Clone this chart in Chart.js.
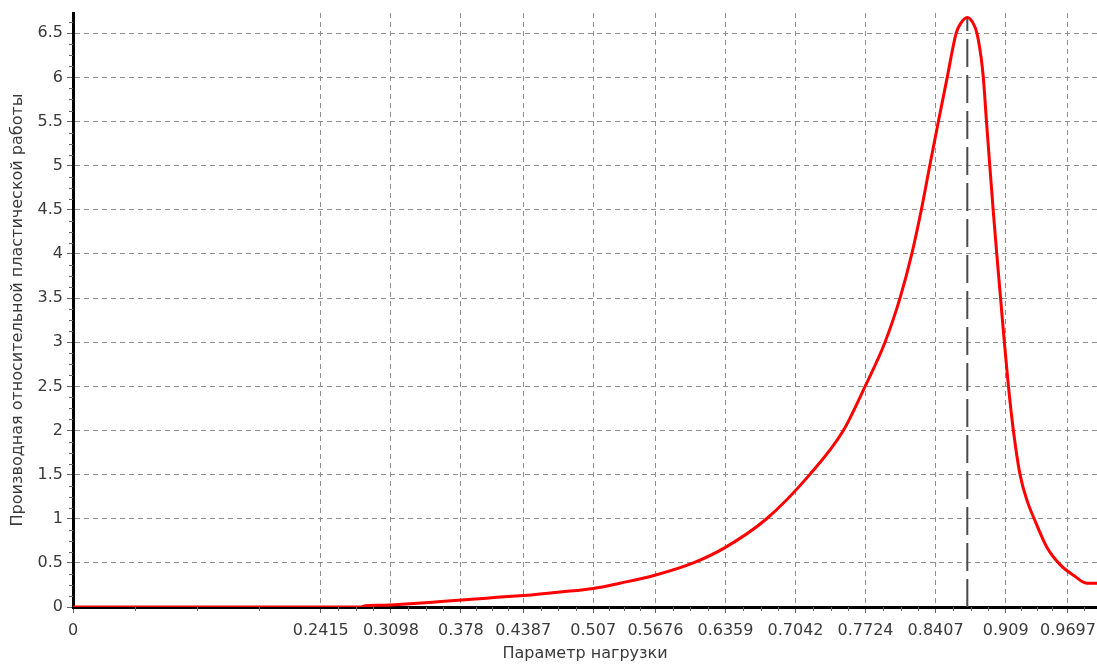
<!DOCTYPE html>
<html>
<head>
<meta charset="utf-8">
<script src="https://cdn.jsdelivr.net/npm/chart.js@4/dist/chart.umd.min.js"></script>
<style>
  html, body { margin: 0; padding: 0; background: #fff; }
</style>
</head>
<body>
<canvas id="plot" width="1097" height="666"></canvas>
<script>
// load parameter vs. derivative of relative plastic work
const loadParam = [
    0, 0.28, 0.285, 0.30, 0.325, 0.356, 0.379, 0.403, 0.424, 0.449,
    0.475, 0.507, 0.533, 0.567, 0.6046, 0.635, 0.676, 0.718, 0.7508, 0.772,
    0.7914, 0.806, 0.8175, 0.8268, 0.835, 0.8434, 0.852, 0.8607, 0.865, 0.8716,
    0.8775, 0.881, 0.885, 0.8872, 0.8903, 0.8935, 0.8968, 0.9003, 0.904, 0.9077,
    0.9117, 0.9165, 0.923, 0.930, 0.9368, 0.949, 0.962, 0.975, 0.988, 0.998
];
const plasticWork = [
    0, 0, 0.015, 0.02, 0.035, 0.06, 0.08, 0.10, 0.12, 0.14,
    0.17, 0.21, 0.27, 0.36, 0.50, 0.67, 1.00, 1.50, 2.00, 2.50,
    3.00, 3.50, 4.00, 4.50, 5.00, 5.50, 6.00, 6.50, 6.61, 6.68,
    6.61, 6.50, 6.23, 6.00, 5.50, 5.00, 4.50, 4.00, 3.50, 3.00,
    2.50, 2.00, 1.50, 1.20, 1.00, 0.68, 0.48, 0.36, 0.27, 0.27
];
const xTicks = [0, 0.2415, 0.3098, 0.378, 0.4387, 0.507, 0.5676, 0.6359, 0.7042, 0.7724, 0.8407, 0.909, 0.9697];
const yTicks = [0, 0.5, 1, 1.5, 2, 2.5, 3, 3.5, 4, 4.5, 5, 5.5, 6, 6.5];

const xMax = 0.998;
const yMax = 6.73;

let curve = [];
for (let i = 0; i < loadParam.length; i++) {
    curve.push({ x: loadParam[i], y: plasticWork[i] });
}

// vertical marker at the maximum
let peakIdx = 0;
for (let i = 1; i < plasticWork.length; i++) {
    if (plasticWork[i] > plasticWork[peakIdx]) peakIdx = i;
}
let peakLine = [
    { x: loadParam[peakIdx], y: 0 },
    { x: loadParam[peakIdx], y: plasticWork[peakIdx] }
];

const textColor = '#3a3a3a';
const fontFamily = "'DejaVu Sans', Verdana, sans-serif";

// small ticks between the labelled ones
const minorTicks = {
    id: 'minorTicks',
    afterDraw(chart) {
        const ctx = chart.ctx;
        const xs = chart.scales.x;
        const ys = chart.scales.y;
        ctx.save();
        ctx.strokeStyle = '#666';
        ctx.lineWidth = 1;
        ctx.beginPath();
        let bounds = xTicks.slice();
        let last = xTicks[xTicks.length - 1] - xTicks[xTicks.length - 2];
        bounds.push(xTicks[xTicks.length - 1] + last);
        for (let i = 0; i < bounds.length - 1; i++) {
            let step = (bounds[i + 1] - bounds[i]) / 4;
            for (let k = 1; k < 4; k++) {
                let v = bounds[i] + step * k;
                if (v > xMax) break;
                let px = Math.round(xs.getPixelForValue(v)) + 0.5;
                ctx.moveTo(px, ys.bottom);
                ctx.lineTo(px, ys.bottom + 4);
            }
        }
        for (let v = 0.125; v < yMax; v += 0.125) {
            if (Math.abs(v * 2 - Math.round(v * 2)) < 1e-6) continue;
            let py = Math.round(ys.getPixelForValue(v)) + 0.5;
            ctx.moveTo(xs.left, py);
            ctx.lineTo(xs.left - 4, py);
        }
        ctx.stroke();
        ctx.restore();
    }
};

new Chart(document.getElementById('plot'), {
    type: 'line',
    data: {
        datasets: [
            {
                data: curve,
                borderColor: '#ff0000',
                borderWidth: 3,
                pointRadius: 0,
                cubicInterpolationMode: 'monotone',
                fill: false,
            },
            {
                data: peakLine,
                borderColor: '#4a4a4a',
                borderWidth: 2,
                borderDash: [28, 8],
                pointRadius: 0,
                fill: false,
            },
        ],
    },
    options: {
        responsive: false,
        devicePixelRatio: 1,
        animation: false,
        layout: { padding: { top: 13, right: 0, left: 0, bottom: 0 } },
        plugins: {
            legend: { display: false },
            tooltip: { enabled: false },
        },
        scales: {
            x: {
                type: 'linear',
                min: 0,
                max: xMax,
                afterBuildTicks: function (scale) {
                    scale.ticks = xTicks.map(v => ({ value: v }));
                },
                afterFit: function (scale) {
                    scale.height = 59;
                    // let the last label run to the canvas edge
                    scale.paddingLeft = 0;
                    scale.paddingRight = 0;
                },
                grid: {
                    color: '#909090',
                    lineWidth: 1,
                    tickLength: 6,
                    tickColor: '#666',
                },
                border: { display: true, color: '#000', width: 3, dash: [5, 4] },
                ticks: {
                    autoSkip: false,
                    maxRotation: 0,
                    padding: 8,
                    color: textColor,
                    font: { family: fontFamily, size: 16 },
                    callback: v => String(v),
                },
                title: {
                    display: true,
                    text: 'Параметр нагрузки',
                    color: textColor,
                    font: { family: fontFamily, size: 16 },
                    padding: { top: 0, bottom: 3 },
                },
            },
            y: {
                min: 0,
                max: yMax,
                afterBuildTicks: function (scale) {
                    scale.ticks = yTicks.map(v => ({ value: v }));
                },
                afterFit: function (scale) {
                    scale.width = 73;
                    scale.paddingTop = 0;
                    scale.paddingBottom = 0;
                },
                grid: {
                    color: '#909090',
                    lineWidth: 1,
                    tickLength: 6,
                    tickColor: '#666',
                },
                border: { display: true, color: '#000', width: 3, dash: [5, 4] },
                ticks: {
                    padding: 4,
                    color: textColor,
                    font: { family: fontFamily, size: 16 },
                    callback: v => String(v),
                },
                title: {
                    display: true,
                    text: 'Производная относительной пластической работы',
                    color: textColor,
                    font: { family: fontFamily, size: 16 },
                    padding: { top: 8, bottom: 0 },
                },
            },
        },
    },
    plugins: [minorTicks],
});
</script>
</body>
</html>
